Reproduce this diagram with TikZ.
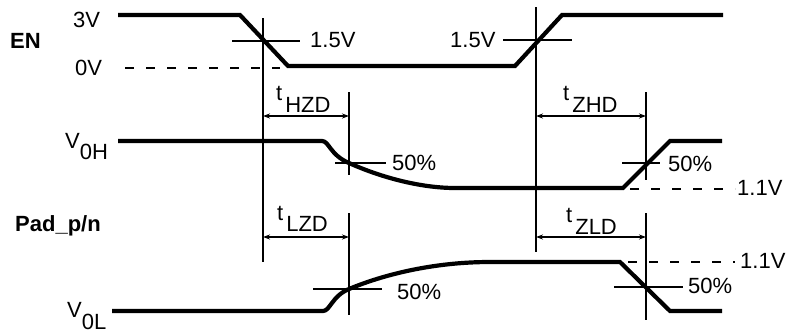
\documentclass[tikz,border=0pt]{standalone}
\usepackage{fontspec}
\setmainfont{Liberation Sans}
\usetikzlibrary{arrows.meta}
\begin{document}
\begin{tikzpicture}[x=1pt,y=-1pt,
  trace/.style={line width=4.2pt,line join=miter},
  thin/.style={line width=1.5pt},
  dashline/.style={line width=1.5pt,dash pattern=on 9pt off 12pt},
  dim/.style={line width=1.2pt,{Stealth[length=7pt,width=5pt]}-{Stealth[length=7pt,width=5pt]}},
  lbl/.style={inner sep=0pt,anchor=base west,font=\fontsize{22}{24}\selectfont},
  blbl/.style={lbl,font=\fontsize{22}{24}\selectfont\bfseries}]
\useasboundingbox (0,0) rectangle (790,335);
% labels
\node[lbl] (l3v) at (73,27) {3V};
\node[blbl] (len) at (10,48) {EN};
\node[lbl] (l0v) at (75,75) {0V};
\node[lbl] (l15a) at (310,47) {1.5V};
\node[lbl] (l15b) at (450,47) {1.5V};
\node[lbl] (lvoh) at (65,148) {V\raisebox{-11pt}{0H}};
\node[blbl] (lpad) at (15,231) {Pad\_p/n};
\node[lbl] (lvol) at (67,317) {V\raisebox{-12pt}{0L}};
\node[lbl] (lhzd) at (276,100) {t\hspace{3pt}\raisebox{-12pt}{HZD}};
\node[lbl] (llzd) at (277,220) {t\hspace{3pt}\raisebox{-11pt}{LZD}};
\node[lbl] (lzhd) at (563,100) {t\hspace{3pt}\raisebox{-12pt}{ZHD}};
\node[lbl] (lzld) at (566,222) {t\hspace{3pt}\raisebox{-12pt}{ZLD}};
\node[lbl] (p50a) at (392,170) {50\%};
\node[lbl] (p50b) at (397,299) {50\%};
\node[lbl] (p50c) at (668,171) {50\%};
\node[lbl] (p50d) at (688,293) {50\%};
\node[lbl] (v11a) at (737,195) {1.1V};
\node[lbl] (v11b) at (740,268) {1.1V};
% reference coordinates
\coordinate (a1) at (263,18);  \coordinate (a2) at (263,262);
\coordinate (b1) at (536,7);   \coordinate (b2) at (536,252);
\coordinate (c1) at (349,92);  \coordinate (c2) at (349,175);
\coordinate (d1) at (349,213); \coordinate (d2) at (349,315);
\coordinate (e1) at (646,92);  \coordinate (e2) at (646,180);
\coordinate (f1) at (646,213); \coordinate (f2) at (646,320);
% vertical markers
\draw[thin] (a1) -- (a2);
\draw[thin] (b1) -- (b2);
\draw[thin] (c1) -- (c2);
\draw[thin] (d1) -- (d2);
\draw[thin] (e1) -- (e2);
\draw[thin] (f1) -- (f2);
% crosshairs
\draw[thin] (232,41) -- (300,41);
\draw[thin] (503,40) -- (572,40);
\draw[thin] (335,163) -- (386,163);
\draw[thin] (313,289) -- (382,289);
\draw[thin] (622,163) -- (660,163);
\draw[thin] (614,287) -- (683,287);
% dashed levels
\draw[dashline] (125,68) -- (280,68);
\draw[dashline] (630,189) -- (735,189);
\draw[dashline] (628,262) -- (735,262);
% dimension arrows
\draw[dim] (263,116) -- (349,116);
\draw[dim] (536,116) -- (646,116);
\draw[dim] (263,237) -- (349,237);
\draw[dim] (536,237) -- (646,237);
% traces
\draw[trace] (118,15) -- (240,15) -- (288,66) -- (515,66) -- (562,15) -- (723,15);
\draw[trace] (118,141) -- (322,141) .. controls (329,141) and (330,155) .. (349,163)
  .. controls (380,177) and (420,188) .. (455,188) -- (623,188) -- (670,141) -- (722,141);
\draw[trace] (112,311) -- (323,311) .. controls (330,311) and (332,296) .. (349,289)
  .. controls (390,272) and (440,262) .. (490,262) -- (620,262) -- (670,311) -- (722,311);
\end{tikzpicture}
\end{document}
